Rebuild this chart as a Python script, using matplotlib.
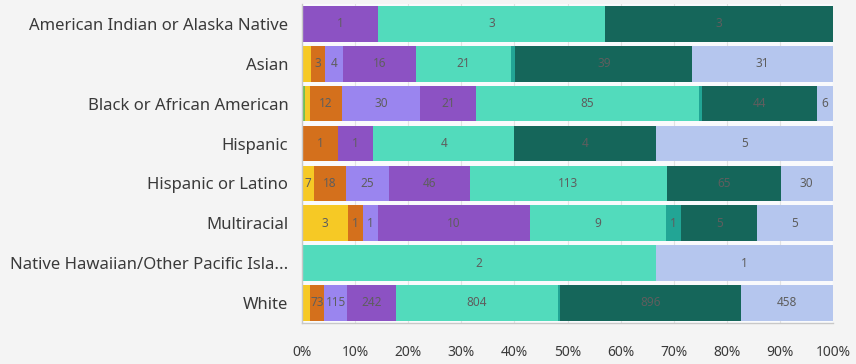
import matplotlib
matplotlib.use("Agg")
import matplotlib.pyplot as plt
import numpy as np
from matplotlib.ticker import PercentFormatter

categories = ["American Indian or Alaska Native", "Asian", "Black or African American",
              "Hispanic", "Hispanic or Latino", "Multiracial",
              "Native Hawaiian/Other Pacific Isla...", "White"]

green   = [0, 0, 1, 0, 0, 0, 0, 0]
yellow  = [0, 2, 2, 0, 7, 3, 0, 37]
orange  = [0, 3, 12, 1, 18, 1, 0, 73]
lpurple = [0, 4, 30, 0, 25, 1, 0, 115]
purple  = [1, 16, 21, 1, 46, 10, 0, 242]
teal    = [3, 21, 85, 4, 113, 9, 2, 804]
dteal   = [0, 1, 1, 0, 0, 1, 0, 13]
dgreen  = [3, 39, 44, 4, 65, 5, 0, 896]
lblue   = [0, 31, 6, 5, 30, 5, 1, 458]

series = [green, yellow, orange, lpurple, purple, teal, dteal, dgreen, lblue]
colors = ["#72bf4e", "#f6c925", "#d4701c", "#9a85ef", "#8c52c3",
          "#52dbbc", "#22a595", "#15665a", "#b5c6ee"]

plt.rcParams['font.family'] = ['Noto Sans', 'DejaVu Sans']

fig = plt.figure(figsize=(8.56, 3.64), dpi=100, facecolor="#f4f4f4")
ax = fig.add_axes([0.353, 0.113, 0.620, 0.876])
ax.set_facecolor("#f9fafc")

data = np.array(series, dtype=float)
totals = data.sum(axis=0)
pct = data / totals * 100
y = np.arange(len(categories))
left = np.zeros(len(categories))
for vals, p, c in zip(series, pct, colors):
    ax.barh(y, p, left=left, height=0.89, color=c, zorder=2)
    for i in range(len(categories)):
        if p[i] >= 2.2:
            ax.text(left[i] + p[i] / 2, y[i], str(vals[i]), ha="center", va="center",
                    fontsize=8.5, color="#5e5e5e", zorder=3)
    left += p

ax.set_xlim(0, 100)
ax.set_ylim(len(categories) - 0.5, -0.5)
ax.set_yticks(y)
ax.set_yticklabels(categories, fontsize=12, color="#3a3a3a")
ax.set_xticks(np.arange(0, 101, 10))
ax.xaxis.set_major_formatter(PercentFormatter(decimals=0))
ax.tick_params(axis="x", labelsize=10, colors="#3a3a3a", length=0, pad=16)
ax.tick_params(axis="y", length=0, pad=10)
ax.grid(axis="x", color="#e2e2e2", linewidth=0.8, zorder=0)
for s in ["top", "right"]:
    ax.spines[s].set_visible(False)
for s in ["left", "bottom"]:
    ax.spines[s].set_color("#c8c8c8")
    ax.spines[s].set_linewidth(1)

fig.savefig("out.png", dpi=100, facecolor=fig.get_facecolor())
